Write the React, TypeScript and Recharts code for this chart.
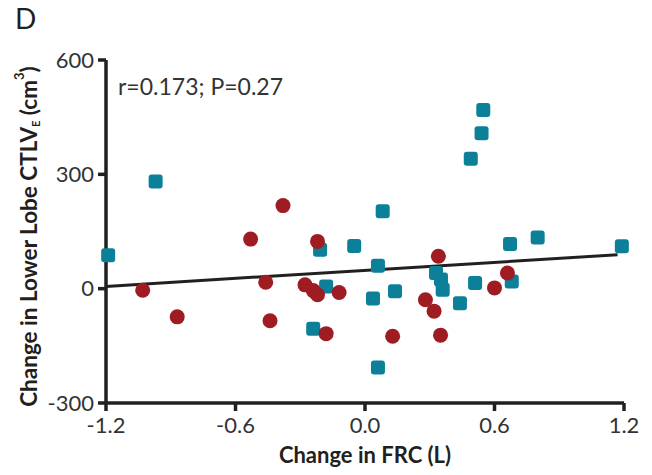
import { ScatterChart, Scatter, XAxis, YAxis, Label } from "recharts"

// teal squares
const tealX = [-1.19, -0.97, -0.24, -0.208, -0.18, -0.05, 0.037, 0.06, 0.06, 0.082, 0.139, 0.329, 0.352, 0.36, 0.44, 0.49, 0.51, 0.54, 0.548, 0.672, 0.68, 0.8, 1.19]
const tealY = [88, 281, -105, 102, 6, 112, -26, 60, -207, 203, -7, 41, 24, -3, -38, 341, 15, 408, 469, 117, 19, 134, 111]

// red circles
const redX = [-1.03, -0.87, -0.53, -0.46, -0.44, -0.38, -0.278, -0.24, -0.22, -0.22, -0.18, -0.12, 0.128, 0.28, 0.32, 0.34, 0.35, 0.6, 0.66]
const redY = [-4, -74, 130, 17, -84, 218, 10, -5, -16, 124, -118, -10, -125, -29, -59, 85, -122, 2, 41]

// regression line end points
const fitX = [-1.2, 1.17]
const fitY = [6, 89]

const xTicks = [-1.2, -0.6, 0, 0.6, 1.2]
const yTicks = [-300, 0, 300, 600]

const teal = tealX.map((x, i) => ({ x, y: tealY[i] }))
const red = redX.map((x, i) => ({ x, y: redY[i] }))
const fit = fitX.map((x, i) => ({ x, y: fitY[i] }))

const font = "Lato, 'Open Sans', sans-serif"
const ink = "#231f20"

const Square = (p: any) => (
  <rect x={p.cx - 7} y={p.cy - 7} width={14} height={14} rx={3} fill="#0b8098" />
)
const Dot = (p: any) => <circle cx={p.cx} cy={p.cy} r={7.5} fill="#9e1c22" />

const YTitle = (props: any) => {
  const vb = props.viewBox
  const cx = 28
  const cy = vb.y + vb.height / 2 + 5
  return (
    <text
      x={cx}
      y={cy}
      transform={`rotate(-90 ${cx} ${cy})`}
      textAnchor="middle"
      dominantBaseline="central"
      fontFamily={font}
      fontWeight="bold"
      fontSize={22.5}
      fill={ink}
    >
      Change in Lower Lobe CTLV
      <tspan fontSize={11} dy={7}>E</tspan>
      <tspan dy={-7}> (cm</tspan>
      <tspan fontSize={13} dy={-9}>3</tspan>
      <tspan dy={9}>)</tspan>
    </text>
  )
}

export default function App() {
  return (
    <div style={{ position: "relative", width: 652, height: 475, background: "#fff" }}>
      <style>{`body{margin:0}`}</style>
      <ScatterChart width={652} height={475} margin={{ top: 60, right: 28, bottom: 0, left: 0 }}>
        <XAxis
          type="number"
          dataKey="x"
          domain={[-1.2, 1.2]}
          ticks={xTicks}
          tickFormatter={(v: number) => v.toFixed(1)}
          height={72}
          tickSize={8}
          tickMargin={6}
          axisLine={{ stroke: ink, strokeWidth: 3.5 }}
          tickLine={{ stroke: ink, strokeWidth: 3.5 }}
          tick={{ fill: "#333", fontSize: 22, fontFamily: font }}
        >
          <Label
            value="Change in FRC (L)"
            position="insideBottom"
            offset={12}
            style={{ fill: ink, fontSize: 22, fontWeight: "bold", fontFamily: font }}
          />
        </XAxis>
        <YAxis
          type="number"
          dataKey="y"
          domain={[-300, 600]}
          ticks={yTicks}
          width={106}
          tickSize={8}
          tickMargin={4}
          axisLine={{ stroke: ink, strokeWidth: 3.5 }}
          tickLine={{ stroke: ink, strokeWidth: 3.5 }}
          tick={{ fill: "#333", fontSize: 22, fontFamily: font }}
        >
          <Label content={YTitle} />
        </YAxis>
        <Scatter
          data={fit}
          line={{ stroke: ink, strokeWidth: 3 }}
          shape={() => <g />}
          isAnimationActive={false}
        />
        <Scatter data={teal} shape={Square} isAnimationActive={false} />
        <Scatter data={red} shape={Dot} isAnimationActive={false} />
      </ScatterChart>
      <div style={{ position: "absolute", left: 15, top: 3, fontFamily: font, fontSize: 28, lineHeight: "30px", color: ink }}>D</div>
      <div style={{ position: "absolute", left: 118, top: 72, fontFamily: font, fontSize: 23, color: "#333" }}>
        r=0.173; P=0.27
      </div>
    </div>
  )
}
